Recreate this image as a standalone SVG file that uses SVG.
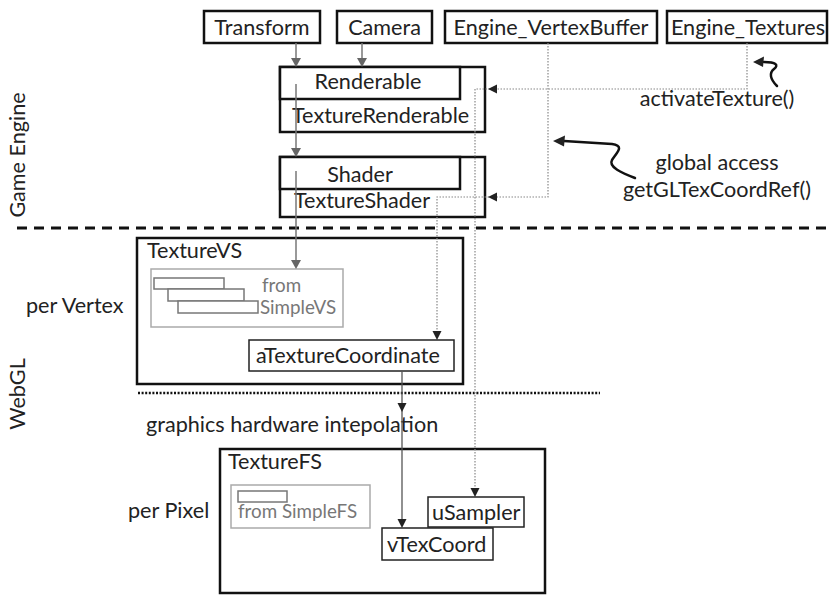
<svg xmlns="http://www.w3.org/2000/svg" width="829" height="595" viewBox="0 0 829 595">
<style>
text{font-family:Lato,"Open Sans","Liberation Sans",sans-serif;fill:#222;font-size:21.6px}
.box{fill:#fff;stroke:#111;stroke-width:2.5}
.thin{fill:#fff;stroke:#222;stroke-width:1.5}
.gbox{fill:none;stroke:#aaa;stroke-width:1.5}
.grect{fill:#fff;stroke:#777;stroke-width:1.5}
.gt{fill:#777;font-size:18.8px}
.gl{fill:none;stroke:#777;stroke-width:1.5}
.dl{fill:none;stroke:#888;stroke-width:1.2;stroke-dasharray:1.5 1.5}
.sl{fill:none;stroke:#555;stroke-width:1.3}
.ah{fill:#222}
.gah{fill:#666}
.sq{fill:none;stroke:#111;stroke-width:2.5;stroke-linecap:round}
</style>
<rect width="829" height="595" fill="#fff"/>
<g id="labels">
<text transform="rotate(-90 25 155)" x="25" y="155" text-anchor="middle">Game Engine</text>
<text transform="rotate(-90 25 394)" x="25" y="394" text-anchor="middle">WebGL</text>
<text x="26" y="313">per Vertex</text>
<text x="128" y="518">per Pixel</text>
<text x="146" y="432">graphics hardware intepolation</text>
<text x="717" y="106" text-anchor="middle">activateTexture()</text>
<text x="717" y="170" text-anchor="middle">global access</text>
<text x="717" y="197" text-anchor="middle">getGLTexCoordRef()</text>
</g>
<g id="separators">
<line x1="17" y1="228" x2="829" y2="228" stroke="#111" stroke-width="3" stroke-dasharray="10 7"/>
<line x1="138" y1="393" x2="600" y2="393" stroke="#111" stroke-width="2.5" stroke-dasharray="2 1.6"/>
</g>
<g id="transform"><rect class="box" x="204" y="11" width="116" height="32"/><text x="262" y="35" text-anchor="middle">Transform</text></g>
<g id="camera"><rect class="box" x="337" y="11" width="95" height="32"/><text x="384.5" y="35" text-anchor="middle">Camera</text></g>
<g id="vertexbuffer"><rect class="box" x="445" y="11" width="212" height="32"/><text x="551" y="35" text-anchor="middle">Engine_VertexBuffer</text></g>
<g id="textures"><rect class="box" x="667" y="11" width="160" height="32"/><text x="748" y="35" text-anchor="middle">Engine_Textures</text></g>
<g id="renderable"><rect class="box" x="280" y="67" width="205" height="65"/><rect class="box" x="280" y="67" width="180" height="32"/><text x="368" y="89" text-anchor="middle">Renderable</text><text x="292" y="123">TextureRenderable</text></g>
<g id="shader"><rect class="box" x="280" y="157" width="205" height="60"/><rect class="box" x="280" y="157" width="180" height="32"/><text x="360" y="182" text-anchor="middle">Shader</text><text x="294" y="208">TextureShader</text></g>
<g id="texturevs"><rect class="box" x="137" y="238" width="326" height="146"/><text x="147" y="258">TextureVS</text>
<rect class="gbox" x="151" y="269" width="192" height="58"/>
<rect class="grect" x="154" y="278" width="70" height="11"/><rect class="grect" x="168" y="289" width="76" height="12"/><rect class="grect" x="178" y="301" width="80" height="12"/>
<text class="gt" x="262" y="292">from</text><text class="gt" x="260" y="314">SimpleVS</text></g>
<g id="atexcoord"><rect class="thin" x="249" y="340" width="205" height="31"/><text x="256" y="363">aTextureCoordinate</text></g>
<g id="texturefs"><rect class="box" x="220" y="449" width="325" height="144"/><text x="228" y="469">TextureFS</text>
<rect class="gbox" x="231" y="485" width="139" height="43"/><rect class="grect" x="238" y="491" width="49" height="11"/>
<text class="gt" x="238" y="518">from SimpleFS</text></g>
<g id="usampler"><rect class="thin" x="428" y="497" width="96" height="30"/><text x="432" y="520">uSampler</text></g>
<g id="vtexcoord"><rect class="thin" x="382" y="528" width="111" height="32"/><text x="387" y="552">vTexCoord</text></g>
<g id="connectors">
<line class="gl" x1="296" y1="43" x2="296" y2="60"/><polygon class="gah" points="291,58 301,58 296,67"/>
<line class="gl" x1="362" y1="43" x2="362" y2="60"/><polygon class="gah" points="357,58 367,58 362,67"/>
<line class="gl" x1="296" y1="84" x2="296" y2="150"/><polygon class="gah" points="291,148 301,148 296,157"/>
<line class="gl" x1="296" y1="171" x2="296" y2="262"/><polygon class="gah" points="291,260 301,260 296,269"/>
<path class="dl" d="M747,43 V89 H475 V490"/>
<polygon class="ah" points="488,89 497,84.5 497,93.5"/>
<polygon class="ah" points="470.5,488 479.5,488 475,497"/>
<path class="dl" d="M548,43 V197 H437 V333"/>
<polygon class="ah" points="488,197 497,192.5 497,201.5"/>
<polygon class="ah" points="432.5,331 441.5,331 437,340"/>
<line class="sl" x1="402" y1="371" x2="402" y2="521"/>
<polygon class="ah" points="397.5,403 406.5,403 402,412"/>
<polygon class="ah" points="397.5,519 406.5,519 402,528"/>
<path class="sq" d="M777,86 C770,79 769,73 774,69 C779,65 776,62 764,62"/>
<polygon class="ah" points="753,62 764,56.5 763,67"/>
<path class="sq" d="M635,178 C622,173 608,167 612,160 C617,152 625,146 612,144 L564,141"/>
<polygon class="ah" points="553,141 565,135.5 564,146.5"/>
</g>
</svg>
